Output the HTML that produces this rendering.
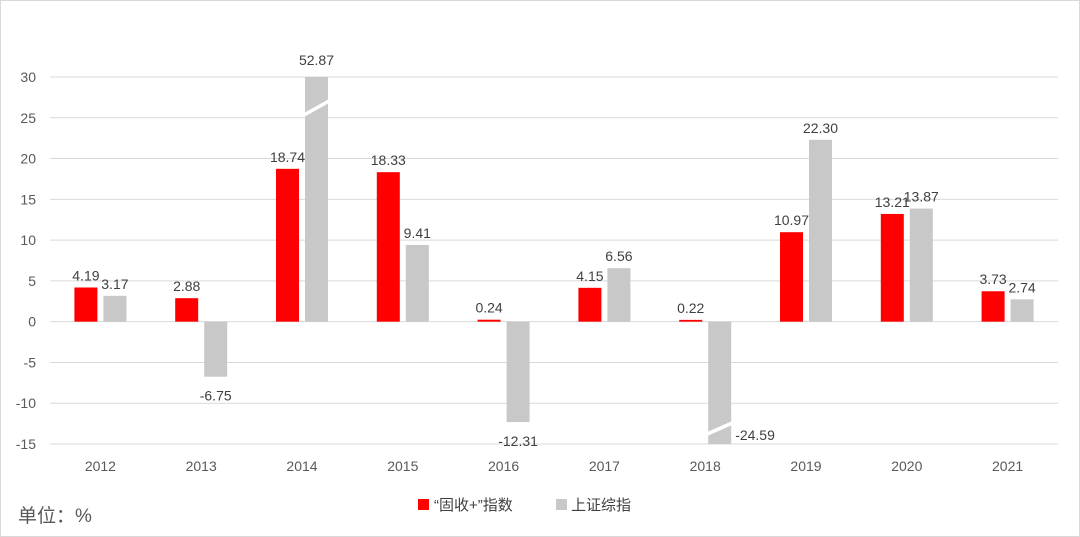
<!DOCTYPE html>
<html><head><meta charset="utf-8"><style>
html,body{margin:0;padding:0;background:#fff}
svg{display:block;font-family:"Liberation Sans","Noto Sans CJK SC",sans-serif}
</style></head><body>
<svg id="c" width="1080" height="537">
<rect x="0.5" y="0.5" width="1079" height="536" fill="#fff" stroke="#d9d9d9"/>
<g id="grid"></g><g id="bars"></g><g id="labels"></g>
<g>
<rect x="418" y="499" width="11" height="11" fill="#ff0000"/>
<text x="434" y="510" font-size="15" fill="#404040">“固收+”指数</text>
<rect x="556" y="499" width="11" height="11" fill="#c8c8c8"/>
<text x="571" y="510" font-size="15" fill="#404040">上证综指</text>
</g>
<text x="18" y="522" font-size="19" fill="#595959">单位：%</text>
</svg>
<script>
const categories=["2012","2013","2014","2015","2016","2017","2018","2019","2020","2021"];
const seriesIndex=[4.19,2.88,18.74,18.33,0.24,4.15,0.22,10.97,13.21,3.73];
const seriesSSE=[3.17,-6.75,52.87,9.41,-12.31,6.56,-24.59,22.30,13.87,2.74];
const yTicks=[30,25,20,15,10,5,0,-5,-10,-15];
const yMin=-15,yMax=30;
const NS="http://www.w3.org/2000/svg";
const plotTop=77,plotBot=444,plotLeft=50,plotRight=1058;
const yS=v=>plotBot-(Math.max(yMin,Math.min(yMax,v))-yMin)/(yMax-yMin)*(plotBot-plotTop);
const step=(plotRight-plotLeft)/categories.length;
const xc=i=>plotLeft+step*(i+0.5);
const bw=23;
function mk(tag,attrs,parent,txt){const e=document.createElementNS(NS,tag);for(const k in attrs)e.setAttribute(k,attrs[k]);if(txt!==undefined)e.textContent=txt;document.getElementById(parent).appendChild(e);return e;}
yTicks.forEach(t=>{
  const g=mk("line",{x1:plotLeft,x2:plotRight,y1:yS(t),y2:yS(t),stroke:"#d9d9d9","stroke-width":1},"grid");
  
  
  const l=mk("text",{x:36,y:yS(t)+5,"text-anchor":"end","font-size":14,fill:"#595959"},"grid",String(t));
  
  
});
categories.forEach((c,i)=>{
  const l=mk("text",{x:xc(i),y:471,"text-anchor":"middle","font-size":14,fill:"#595959"},"grid",c);
  
  
});
function bar(v,i,x,color,name){
  const y0=yS(0),yv=yS(v);
  const r=mk("rect",{x:x,y:Math.min(y0,yv),width:bw,height:Math.max(1,Math.abs(y0-yv)),fill:color},"bars");
  
  
  let lx=x+bw/2,ly,anchor="middle";
  if(v>yMax){
    const b=mk("polygon",{points:`${x-1},${yv+36} ${x+bw+1},${yv+22} ${x+bw+1},${yv+26} ${x-1},${yv+40}`,fill:"#fff"},"bars");
    
    
    ly=yv-12;
  }else if(v<yMin){
    const b=mk("polygon",{points:`${x-1},${yv-12} ${x+bw+1},${yv-23} ${x+bw+1},${yv-19} ${x-1},${yv-8}`,fill:"#fff"},"bars");
    
    
    lx=x+bw+4;ly=yv-4;anchor="start";
  }else if(v>=0){ly=yv-7;}else{ly=yv+24;}
  const t=mk("text",{x:lx,y:ly,"text-anchor":anchor,"font-size":14,fill:"#404040"},"labels",v.toFixed(2));
  
  
}
categories.forEach((c,i)=>{
  bar(seriesIndex[i],i,xc(i)-bw-3,"#ff0000","bar-index-"+c);
  bar(seriesSSE[i],i,xc(i)+3,"#c8c8c8","bar-sse-"+c);
});
</script>
</body></html>
